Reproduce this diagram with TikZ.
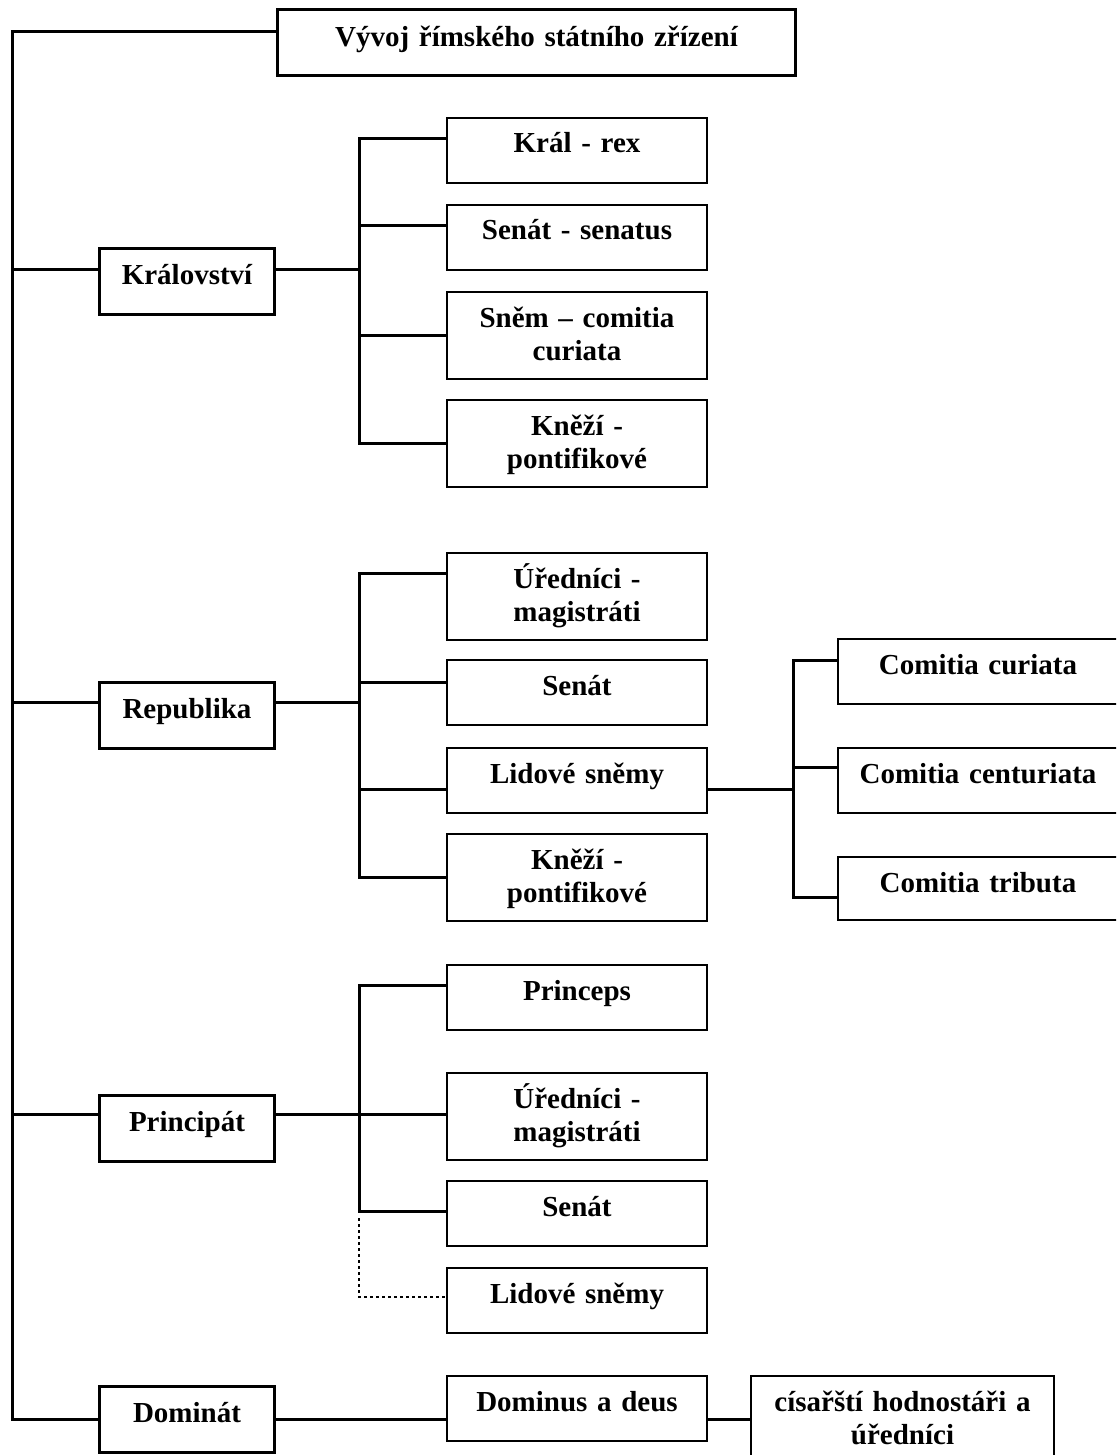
\documentclass[tikz,border=0pt]{standalone}
\usepackage{fontspec}
\setmainfont{Liberation Serif}
\usetikzlibrary{calc}

\tikzset{
  box/.style={draw,line width=2pt,anchor=north west,inner sep=0pt,align=center,text width=#1,text height=35pt,text depth=30pt,font=\bfseries\fontsize{29pt}{33pt}\selectfont},
  big/.style={box=#1,line width=3pt,text height=36pt},
  conn/.style={line width=3pt},
  spine/.style={line width=3pt,line cap=rect},
  dotconn/.style={line width=2.6pt,dash pattern=on 2.6pt off 3.4pt},
}

\begin{document}
\begin{tikzpicture}[x=1pt,y=-1pt]
\useasboundingbox (0,0) rectangle (1116,1455);
\clip (0,0) rectangle (1116,1455);
\coordinate (s0) at (12,0);
\coordinate (s1) at (359,0);
\coordinate (s2) at (793,0);
% title and periods
\node[big=518,text height=37pt,text depth=29pt] (title) at (276,8) {Vývoj římského státního zřízení};
\coordinate (title-w) at ($(title.north west)+(0,24)$);
\foreach \i/\y/\o/\t in {1/247/22/Království,2/681/21/Republika,3/1094/20/Principát,4/1385/34/Dominát}{
  \node[big=175] (p-\i) at (98,\y) {\t};
  \coordinate (p-\i-w) at ($(p-\i.north west)+(0,\o)$);
  \coordinate (p-\i-e) at ($(p-\i.north east)+(0,\o)$);
};
\draw[conn] (title-w) -| (s0 |- p-4-w) -- (p-4-w);
\foreach \i in {1,2,3}{
  \draw[conn] (s0 |- p-\i-w) -- (p-\i-w);
};
% kralovstvi
\foreach \i/\y/\d/\o/\t in {1/117/30/22/{Král - rex},2/204/30/22/{Senát - senatus},3/291/52/44/{Sněm – comitia\\curiata},4/399/52/44/{Kněží -\\pontifikové}}{
  \node[box=260,text depth=\d pt] (kr-\i) at (446,\y) {\t};
  \coordinate (kr-\i-w) at ($(kr-\i.north west)+(0,\o)$);
};
\draw[spine] (s1 |- kr-1-w) -- (s1 |- kr-4-w);
\draw[conn] (p-1-e) -- (s1 |- p-1-e);
\foreach \i in {1,...,4}{
  \draw[conn] (s1 |- kr-\i-w) -- (kr-\i-w);
};
% republika
\foreach \i/\y/\d/\o/\t in {1/552/52/21/{Úředníci -\\magistráti},2/659/30/23/{Senát},3/747/30/42/{Lidové sněmy},4/833/52/44/{Kněží -\\pontifikové}}{
  \node[box=260,text depth=\d pt] (re-\i) at (446,\y) {\t};
  \coordinate (re-\i-w) at ($(re-\i.north west)+(0,\o)$);
  \coordinate (re-\i-e) at ($(re-\i.north east)+(0,\o)$);
};
\draw[spine] (s1 |- re-1-w) -- (s1 |- re-4-w);
\draw[conn] (p-2-e) -- (s1 |- p-2-e);
\foreach \i in {1,...,4}{
  \draw[conn] (s1 |- re-\i-w) -- (re-\i-w);
};
% comitia
\foreach \i/\y/\d/\o/\t in {1/638/30/22/{Comitia curiata},2/747/30/20/{Comitia centuriata},3/856/28/41/{Comitia tributa}}{
  \node[box=280,text depth=\d pt] (co-\i) at (837,\y) {\t};
  \coordinate (co-\i-w) at ($(co-\i.north west)+(0,\o)$);
};
\draw[spine] (s2 |- co-1-w) -- (s2 |- co-3-w);
\draw[conn] (re-3-e) -- (s2 |- re-3-e);
\foreach \i in {1,2,3}{
  \draw[conn] (s2 |- co-\i-w) -- (co-\i-w);
};
% principat
\foreach \i/\y/\d/\o/\t in {1/964/30/21/{Princeps},2/1072/52/42/{Úředníci -\\magistráti},3/1180/30/31/{Senát},4/1267/30/30/{Lidové sněmy}}{
  \node[box=260,text depth=\d pt] (pr-\i) at (446,\y) {\t};
  \coordinate (pr-\i-w) at ($(pr-\i.north west)+(0,\o)$);
};
\draw[spine] (s1 |- pr-1-w) -- (s1 |- pr-3-w);
\draw[conn] (p-3-e) -- (s1 |- p-3-e);
\foreach \i in {1,2,3}{
  \draw[conn] (s1 |- pr-\i-w) -- (pr-\i-w);
};
\draw[dotconn] ($(s1 |- pr-3-w)+(0,7)$) |- (pr-4-w);
% dominat
\node[box=260] (do-1) at (446,1375) {Dominus a deus};
\node[box=303,text depth=52pt] (do-2) at (750,1375) {císařští hodnostáři a\\úředníci};
\coordinate (do-1-w) at ($(do-1.north west)+(0,44)$);
\coordinate (do-1-e) at ($(do-1.north east)+(0,44)$);
\coordinate (do-2-w) at ($(do-2.north west)+(0,44)$);
\draw[conn] (p-4-e) -- (do-1-w);
\draw[conn] (do-1-e) -- (do-2-w);
\end{tikzpicture}
\end{document}
